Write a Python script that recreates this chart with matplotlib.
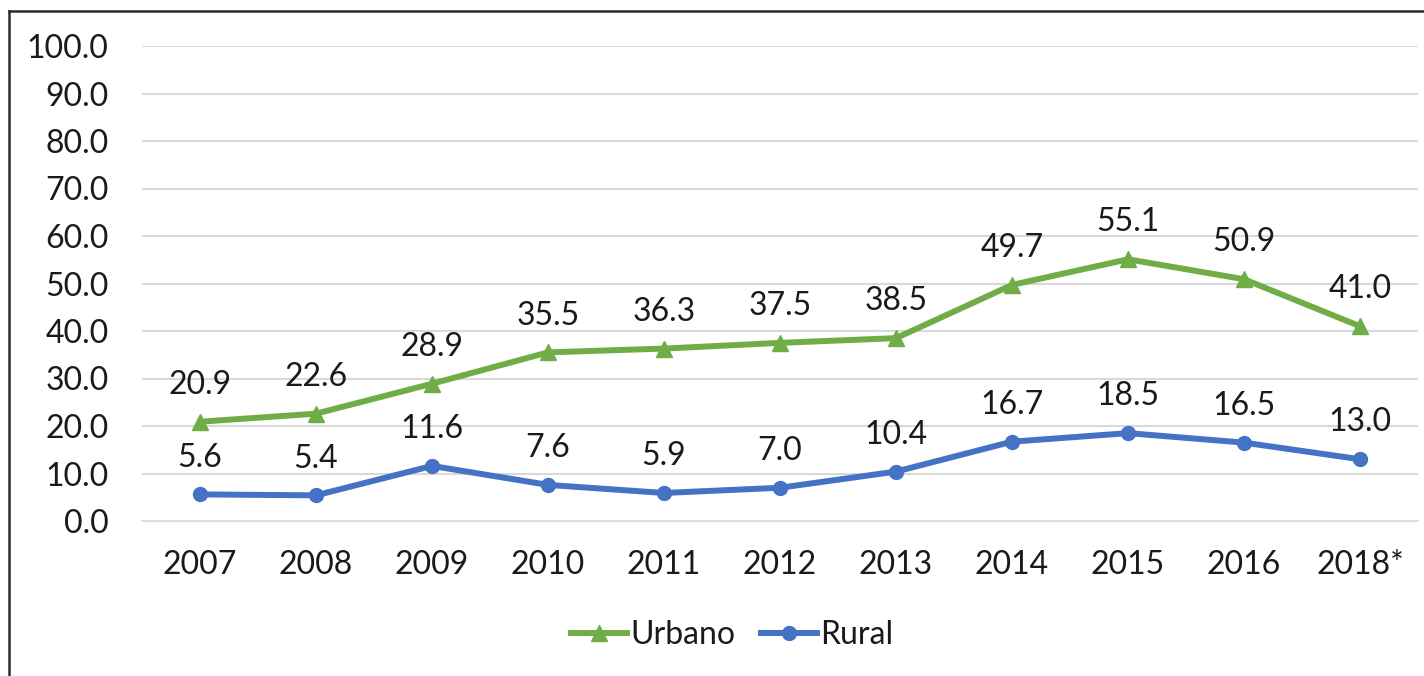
import matplotlib
matplotlib.use("Agg")
import matplotlib.pyplot as plt
from matplotlib.lines import Line2D

years = ["2007", "2008", "2009", "2010", "2011", "2012", "2013", "2014", "2015", "2016", "2018*"]
urbano = [20.9, 22.6, 28.9, 35.5, 36.3, 37.5, 38.5, 49.7, 55.1, 50.9, 41.0]
rural = [5.6, 5.4, 11.6, 7.6, 5.9, 7.0, 10.4, 16.7, 18.5, 16.5, 13.0]
yticks = [0, 10, 20, 30, 40, 50, 60, 70, 80, 90, 100]

plt.rcParams['font.family'] = ['Lato', 'DejaVu Sans']
W, H = 1424, 676
fig = plt.figure(figsize=(W / 100, H / 100), dpi=100)
ax = fig.add_axes([142 / W, 1 - 521 / H, (1418 - 142) / W, (521 - 46) / H])

green = "#70AD47"
blue = "#4472C4"
fs = 23
x = list(range(len(years)))
ax.plot(x, urbano, color=green, lw=4.3, marker="^", ms=11, label="Urbano", zorder=3)
ax.plot(x, rural, color=blue, lw=4.3, marker="o", ms=10, label="Rural", zorder=3)

for series in (urbano, rural):
    for xi, v in zip(x, series):
        ax.annotate(f"{v:.1f}", (xi, v), xytext=(0, 20), textcoords="offset points",
                    ha="center", va="baseline", fontsize=fs, color="#1a1a1a")

ax.set_xlim(-0.5, len(years) - 0.5)
ax.set_ylim(0, 100)
ax.set_yticks(yticks)
ax.set_yticklabels([f"{t:.1f}" for t in yticks])
ax.set_xticks(x)
ax.set_xticklabels(years)
ax.tick_params(axis="y", length=0, pad=24, labelsize=fs, labelcolor="#1a1a1a")
ax.tick_params(axis="x", length=0, pad=21, labelsize=fs, labelcolor="#1a1a1a")
ax.grid(axis="y", color="#D9D9D9", lw=1.5)
ax.set_axisbelow(True)
for s in ("top", "right", "left"):
    ax.spines[s].set_visible(False)
ax.spines["bottom"].set_color("#D6DEF0")
ax.spines["bottom"].set_linewidth(1.5)

ax.legend(loc="center", bbox_to_anchor=(732 / W, 1 - 635 / H), bbox_transform=fig.transFigure,
          ncol=2, frameon=False, fontsize=fs, handlelength=1.75, handletextpad=0.1,
          columnspacing=0.8, labelcolor="#1a1a1a")

fig.add_artist(Line2D([9 / W, 9 / W], [0, 1 - 11 / H], transform=fig.transFigure, color="#262D36", lw=1.8))
fig.add_artist(Line2D([9 / W, 1], [1 - 11 / H, 1 - 11 / H], transform=fig.transFigure, color="#262D36", lw=1.8))

fig.savefig("out.png", dpi=100)
